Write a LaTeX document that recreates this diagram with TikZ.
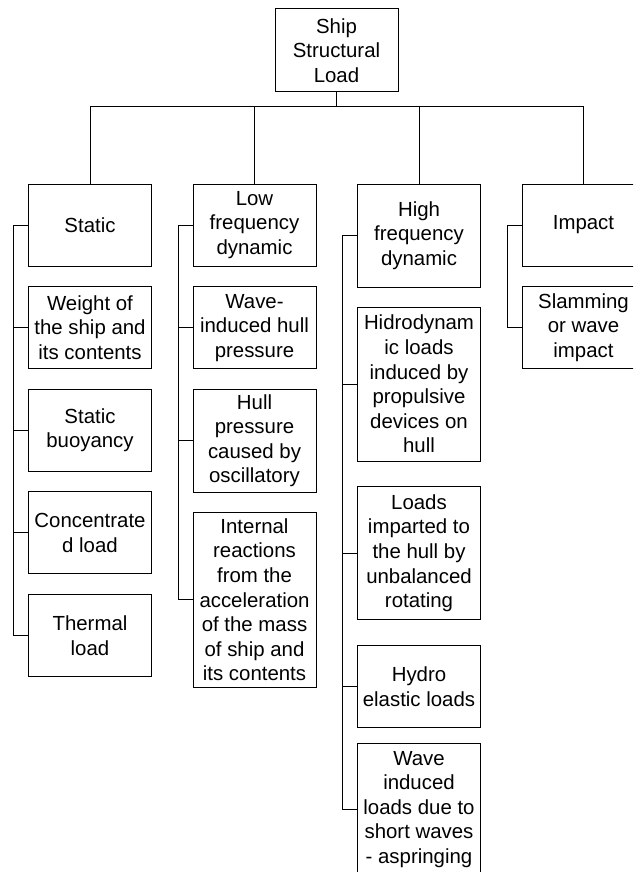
\documentclass[tikz,border=0pt]{standalone}
\usepackage{fontspec}
\setmainfont{Liberation Sans}

\begin{document}
\begin{tikzpicture}[x=1pt, y=-1pt, line width=1pt,
    loadbox/.style = {rectangle, draw, align=center, inner sep=0pt,
                      minimum width=123pt, minimum height=82pt,
                      font=\fontsize{20.4}{24.6}\selectfont}]
  \clip (0, 0) rectangle (633, 872);

  % Root.
  \node at (336.5, 50.5) [loadbox, minimum height=83pt, name=ShipLoad] {Ship\\Structural\\Load};

  % Load groups.
  \node at (90, 225) [loadbox, name=Static] {Static};
  \node at (254.5, 225) [loadbox, name=LowFreq] {Low\\frequency\\dynamic};
  \node at (419, 235.5) [loadbox, minimum height=103pt, name=HighFreq] {High\\frequency\\dynamic};
  \node at (583.5, 225) [loadbox, name=Impact] {Impact};

  % Static loads.
  \node at (90, 327.7) [loadbox, name=Weight] {Weight of\\the ship and\\its contents};
  \node at (90, 430.3) [loadbox, name=Buoyancy] {Static\\buoyancy};
  \node at (90, 532.8) [loadbox, name=Concentrated] {Concentrate\\d load};
  \node at (90, 635.5) [loadbox, name=Thermal] {Thermal\\load};

  % Low frequency loads.
  \node at (254.5, 327.7) [loadbox, name=WaveHull] {Wave-\\induced hull\\pressure};
  \node at (254.5, 440.7) [loadbox, minimum height=102.7pt, name=Oscillatory] {Hull\\pressure\\caused by\\oscillatory};
  \node at (254.5, 599.8) [loadbox, minimum height=175pt, name=Internal] {Internal\\reactions\\from the\\acceleration\\of the mass\\of ship and\\its contents};

  % High frequency loads.
  \node at (419, 384.2) [loadbox, minimum height=153.7pt, name=Propulsive] {Hidrodynam\\ic loads\\induced by\\propulsive\\devices on\\hull};
  \node at (419, 553.3) [loadbox, minimum height=133.3pt, name=Unbalanced] {Loads\\imparted to\\the hull by\\unbalanced\\rotating};
  \node at (419, 686.7) [loadbox, name=HydroElastic] {Hydro\\elastic loads};
  \node at (419, 809.3) [loadbox, minimum height=132pt, name=Springing] {Wave\\induced\\loads due to\\short waves\\- aspringing};

  % Impact loads.
  \node at (583.5, 327.7) [loadbox, name=Slamming] {Slamming\\or wave\\impact};

  % Branch points.
  \coordinate (Bus) at (336.5, 107);
  \coordinate (StaticTrunk) at (13, 225);
  \coordinate (LowTrunk) at (178, 225);
  \coordinate (HighTrunk) at (342, 235.5);
  \coordinate (ImpactTrunk) at (507, 225);

  % Root to groups.
  \draw (ShipLoad.south) -- (Bus);
  \draw (Bus) -| (Static.north);
  \draw (Bus) -| (LowFreq.north);
  \draw (Bus) -| (HighFreq.north);
  \draw (Bus) -| (Impact.north);

  % Static branch.
  \draw (Static.west) -- (StaticTrunk) |- (Thermal.west);
  \draw (StaticTrunk) |- (Weight.west);
  \draw (StaticTrunk) |- (Buoyancy.west);
  \draw (StaticTrunk) |- (Concentrated.west);

  % Low frequency branch.
  \draw (LowFreq.west) -- (LowTrunk) |- (Internal.west);
  \draw (LowTrunk) |- (WaveHull.west);
  \draw (LowTrunk) |- (Oscillatory.west);

  % High frequency branch.
  \draw (HighFreq.west) -- (HighTrunk) |- (Springing.west);
  \draw (HighTrunk) |- (Propulsive.west);
  \draw (HighTrunk) |- (Unbalanced.west);
  \draw (HighTrunk) |- (HydroElastic.west);

  % Impact branch.
  \draw (Impact.west) -- (ImpactTrunk) |- (Slamming.west);
\end{tikzpicture}
\end{document}
